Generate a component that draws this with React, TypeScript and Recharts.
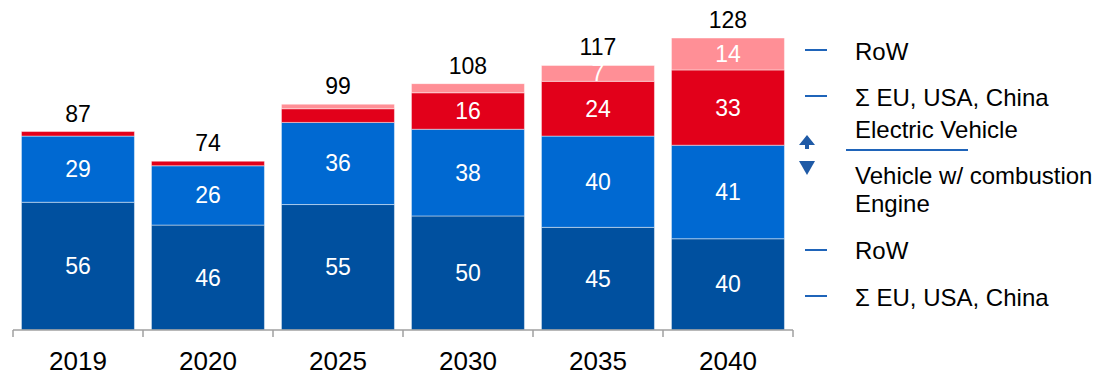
import { BarChart, Bar, XAxis, YAxis, LabelList } from "recharts";

const CATEGORIES = ["2019", "2020", "2025", "2030", "2035", "2040"];
const ICE_MAIN = [56, 46, 55, 50, 45, 40]; // Σ EU, USA, China – combustion
const ICE_ROW = [29, 26, 36, 38, 40, 41]; // RoW – combustion
const EV_MAIN = [2, 2, 6, 16, 24, 33]; // Σ EU, USA, China – electric
const EV_ROW = [0, 0, 2, 4, 7, 14]; // RoW – electric
const TOTALS = [87, 74, 99, 108, 117, 128];

const data = CATEGORIES.map((year, i) => ({
  year,
  iceMain: ICE_MAIN[i],
  iceRow: ICE_ROW[i],
  evMain: EV_MAIN[i],
  evRow: EV_ROW[i],
  total: TOTALS[i],
}));

const FONT = "'Liberation Sans', Arial, sans-serif";
const DARK = "#00509F";
const MID = "#0069D2";
const RED = "#E2001A";
const PINK = "#FF8F96";
const AXIS = "#A0A0A0";

function valueLabel(props: any) {
  const { x, y, width, height, value } = props;
  if (value == null || value < 7) return null;
  return (
    <text
      x={x + width / 2}
      y={y + height / 2}
      textAnchor="middle"
      dominantBaseline="central"
      fill="#ffffff"
      fontSize={23}
      fontFamily={FONT}
    >
      {value}
    </text>
  );
}

// sits on the red segment (never zero) and climbs over the pink one
function totalLabel(props: any) {
  const { x, y, width, height, index } = props;
  const pxPerUnit = height / EV_MAIN[index];
  const top = y - EV_ROW[index] * pxPerUnit;
  return (
    <text
      x={x + width / 2}
      y={top - 18}
      textAnchor="middle"
      dominantBaseline="central"
      fill="#000000"
      fontSize={23}
      fontFamily={FONT}
    >
      {TOTALS[index]}
    </text>
  );
}

function YearTick(props: any) {
  const { x, y, payload, index } = props;
  const half = payload?.offset || 65;
  const axisY = y - 7;
  return (
    <g>
      <line x1={x - half} y1={axisY} x2={x - half} y2={axisY + 7} stroke={AXIS} strokeWidth={1.5} />
      {index === CATEGORIES.length - 1 && (
        <line x1={x + half} y1={axisY} x2={x + half} y2={axisY + 7} stroke={AXIS} strokeWidth={1.5} />
      )}
      <text
        x={x}
        y={axisY + 31}
        textAnchor="middle"
        dominantBaseline="central"
        fill="#000000"
        fontSize={26}
        fontFamily={FONT}
      >
        {payload.value}
      </text>
    </g>
  );
}

function Legend() {
  const txt = { fontSize: 24, fontFamily: FONT, fill: "#000000" } as const;
  return (
    <svg
      width={1099}
      height={375}
      style={{ position: "absolute", left: 0, top: 0, pointerEvents: "none" }}
    >
      <line x1={805} y1={50} x2={827} y2={50} stroke="#1F64B9" strokeWidth={2} />
      <text x={855} y={51} dominantBaseline="central" {...txt}>RoW</text>
      <line x1={805} y1={96} x2={827} y2={96} stroke="#1F64B9" strokeWidth={2} />
      <text x={855} y={97} dominantBaseline="central" {...txt}>Σ EU, USA, China</text>
      <text x={855} y={129} dominantBaseline="central" {...txt}>Electric Vehicle</text>
      <line x1={846} y1={150} x2={968} y2={150} stroke="#1F64B9" strokeWidth={2} />
      <path d="M807 135 L815 145 L809 145 L809 149 L805 149 L805 145 L799 145 Z" fill="#1F5AA6" />
      <path d="M799 161 L815 161 L807 175 Z" fill="#1F5AA6" />
      <text x={855} y={175} dominantBaseline="central" {...txt}>Vehicle w/ combustion</text>
      <text x={855} y={203} dominantBaseline="central" {...txt}>Engine</text>
      <line x1={805} y1={250} x2={827} y2={250} stroke="#1F64B9" strokeWidth={2} />
      <text x={855} y={250} dominantBaseline="central" {...txt}>RoW</text>
      <line x1={805} y1={296} x2={827} y2={296} stroke="#1F64B9" strokeWidth={2} />
      <text x={855} y={297} dominantBaseline="central" {...txt}>Σ EU, USA, China</text>
    </svg>
  );
}

export default function App() {
  const seg = { stroke: "#ffffff", strokeOpacity: 0.45, strokeWidth: 1 };
  return (
    <div
      style={{
        position: "fixed",
        left: 0,
        top: 0,
        width: 1099,
        height: 375,
        background: "#ffffff",
        fontFamily: FONT,
      }}
    >
      <BarChart
        width={800}
        height={375}
        data={data}
        margin={{ top: 38, right: 7, left: 13, bottom: 0 }}
        barCategoryGap="6.5%"
      >
        <XAxis
          dataKey="year"
          height={45}
          axisLine={{ stroke: AXIS, strokeWidth: 1.5 }}
          tickLine={false}
          tickSize={7}
          tickMargin={0}
          tick={<YearTick />}
          interval={0}
        />
        <YAxis hide domain={[0, 128]} />
        <Bar dataKey="iceMain" stackId="a" fill={DARK} {...seg} isAnimationActive={false}>
          <LabelList dataKey="iceMain" content={valueLabel} />
        </Bar>
        <Bar dataKey="iceRow" stackId="a" fill={MID} {...seg} isAnimationActive={false}>
          <LabelList dataKey="iceRow" content={valueLabel} />
        </Bar>
        <Bar dataKey="evMain" stackId="a" fill={RED} {...seg} isAnimationActive={false}>
          <LabelList dataKey="evMain" content={valueLabel} />
          <LabelList dataKey="total" content={totalLabel} />
        </Bar>
        <Bar dataKey="evRow" stackId="a" fill={PINK} {...seg} isAnimationActive={false}>
          <LabelList dataKey="evRow" content={valueLabel} />
        </Bar>
      </BarChart>
      <Legend />
    </div>
  );
}
